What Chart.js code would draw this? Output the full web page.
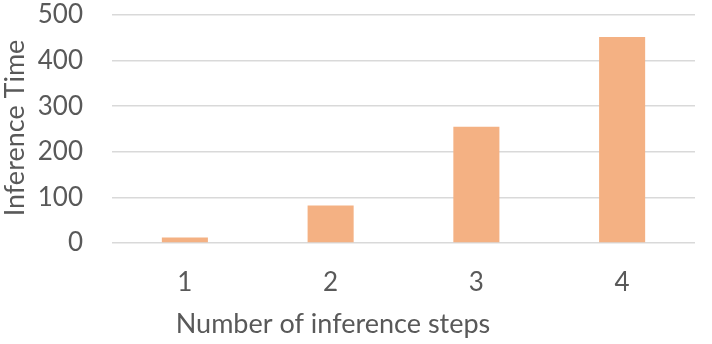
<!DOCTYPE html>
<html>
<head>
<meta charset="utf-8">
<script src="https://cdn.jsdelivr.net/npm/chart.js@4.4.0/dist/chart.umd.min.js"></script>
<style>
  html, body { margin: 0; padding: 0; background: #fff; }
  #wrap { width: 712px; height: 344px; }
</style>
</head>
<body>
<div id="wrap"><canvas id="chart" width="712" height="344"></canvas></div>
<script>
// data
const steps = ['1', '2', '3', '4'];
const inferenceTime = [12, 82, 255, 452];
const yTicks = [0, 100, 200, 300, 400, 500];

const grey = '#595959';
const fontName = 'Lato, "Open Sans", sans-serif';

// axis titles sit slightly off-centre in the original, so draw them by hand
const axisTitles = {
  id: 'axisTitles',
  afterDraw(chart) {
    const ctx = chart.ctx;
    ctx.save();
    ctx.fillStyle = grey;
    ctx.font = '27px ' + fontName;
    ctx.textAlign = 'center';
    ctx.textBaseline = 'middle';
    ctx.fillText('Number of inference steps', 333, 324);
    ctx.translate(15, 128);
    ctx.rotate(-Math.PI / 2);
    ctx.fillText('Inference Time', 0, 0);
    ctx.restore();
  }
};

new Chart(document.getElementById('chart'), {
  type: 'bar',
  data: {
    labels: steps,
    datasets: [{
      data: inferenceTime,
      backgroundColor: '#F4B183',
      barPercentage: 0.316,
      categoryPercentage: 1
    }]
  },
  options: {
    responsive: false,
    animation: false,
    layout: { padding: { top: 15, right: 17, left: 0, bottom: 0 } },
    plugins: { legend: { display: false }, tooltip: { enabled: false } },
    scales: {
      x: {
        grid: { display: false },
        border: { display: false },
        ticks: { color: grey, font: { family: fontName, size: 26 }, padding: 16 },
        afterFit: s => { s.height = 101; s.paddingLeft = 0; s.paddingRight = 0; }
      },
      y: {
        min: 0,
        max: 500,
        afterBuildTicks: s => { s.ticks = yTicks.map(v => ({ value: v })); },
        grid: { color: '#D9D9D9', lineWidth: 1.5, drawTicks: false },
        border: { display: false },
        ticks: { color: grey, font: { family: fontName, size: 26 }, padding: 29 },
        afterFit: s => { s.width = 112; s.paddingTop = 0; s.paddingBottom = 0; }
      }
    }
  },
  plugins: [axisTitles]
});
</script>
</body>
</html>
